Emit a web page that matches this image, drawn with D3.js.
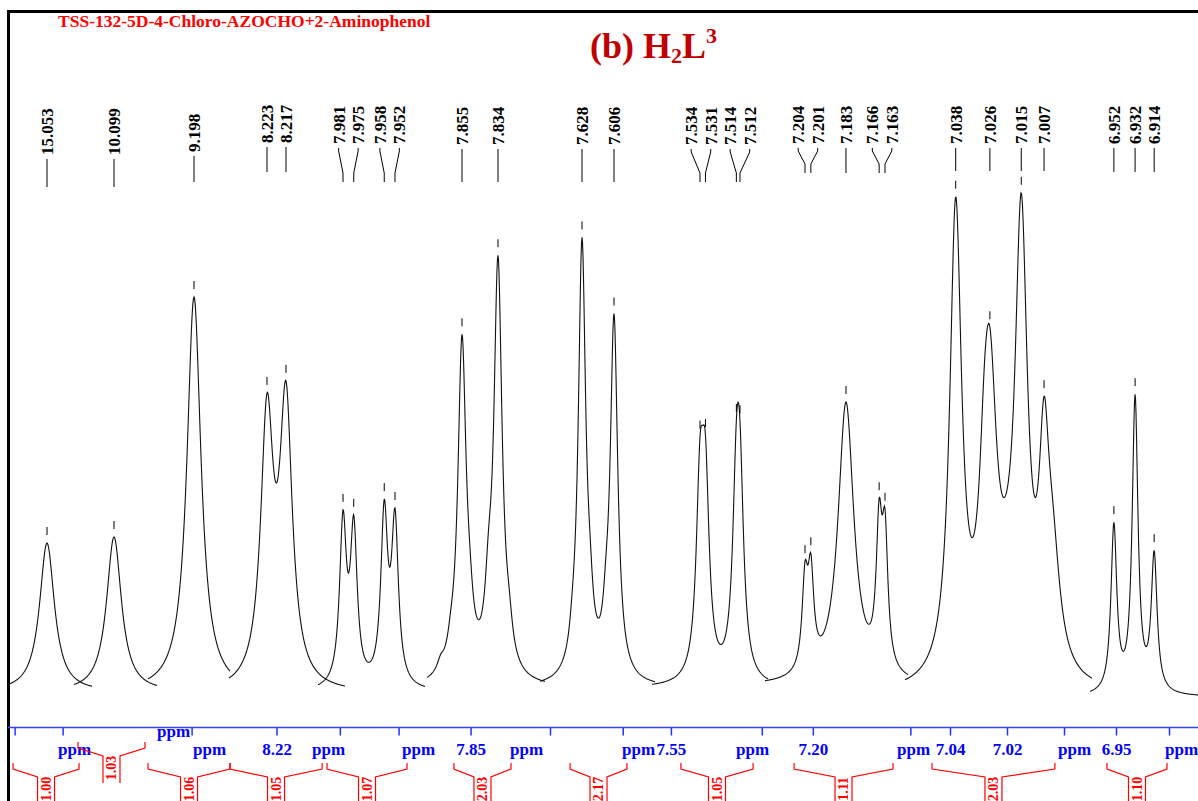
<!DOCTYPE html>
<html>
<head>
<meta charset="utf-8">
<script src="https://cdn.jsdelivr.net/npm/d3@7"></script>
<style>
  body { margin: 0; background: #fff; }
  svg { display: block; }
  text { font-family: "Liberation Serif", "Times New Roman", serif; font-weight: bold; }
</style>
</head>
<body>
<script>
// ---- data ----
let sampleName = "TSS-132-5D-4-Chloro-AZOCHO+2-Aminophenol"

// labelled shifts, one list per stitched region (ppm)
let labelled = [
  [15.053], [10.099], [9.198], [8.223, 8.217],
  [7.981, 7.975, 7.958, 7.952], [7.855, 7.834], [7.628, 7.606],
  [7.534, 7.531, 7.514, 7.512], [7.204, 7.201, 7.183, 7.166, 7.163],
  [7.038, 7.026, 7.015, 7.007], [6.952, 6.932, 6.914]
]

// lines in each region: [shift ppm, height (0-100), half width ppm]
let lines = [
  [[15.053, 29.8, .0075]],
  [[10.099, 31.0, .0075]],
  [[9.198, 79.0, .0071]],
  [[8.223, 52.4, .0024], [8.217, 55.2, .0024]],
  [[7.981, 32.0, .0023], [7.975, 30.4, .0023], [7.958, 33.6, .0023], [7.952, 32.0, .0023]],
  [[7.855, 67.0, .0029], [7.834, 82.6, .0029], [7.8505, 6.0, .0025], [7.8395, 11.0, .0025],
   [7.8275, 5.0, .0025], [7.8615, 3.0, .0025], [7.8675, 2.0, .0025]],
  [[7.628, 87.0, .0031], [7.606, 72.0, .0031], [7.6345, 3.0, .0025], [7.6225, 7.0, .0025],
   [7.6115, 6.0, .0025]],
  [[7.534, 35.0, .0025], [7.531, 35.0, .0025], [7.514, 32.5, .0025], [7.512, 32.5, .0025]],
  [[7.204, 17.2, .0018], [7.201, 18.0, .0018], [7.183, 56.0, .0049], [7.166, 26.5, .0018],
   [7.163, 25.2, .0018]],
  [[7.038, 94.0, .0025], [7.028, 18.0, .0021], [7.026, 52.5, .0030], [7.020, 7.0, .0040],
   [7.015, 88.5, .0026], [7.007, 38.0, .0021], [7.004, 20.0, .0032]],
  [[6.952, 33.2, .0033], [6.932, 58.8, .0033], [6.914, 27.2, .0033]]
]

// axis ticks per region (ppm) and the ones that carry a number
let majorTicks = [[15.08, 15.04], [], [9.20], [8.22, 8.20], [7.95], [7.85], [7.65, 7.60],
                  [7.55, 7.50], [7.20, 7.15], [7.04, 7.02, 7.00], [6.95, 6.90]]
let minorTicks = [[15.06, 15.02], [], [], [8.24, 8.235, 8.23, 8.21, 8.205],
                  [7.98, 7.97, 7.96, 7.94, 7.93], [7.87, 7.86, 7.84, 7.83, 7.82],
                  [7.64, 7.63, 7.62, 7.61, 7.59, 7.58], [7.54, 7.53, 7.52, 7.51],
                  [7.22, 7.21, 7.19, 7.18, 7.17, 7.16, 7.14], [7.03, 7.01, 6.99],
                  [6.96, 6.94, 6.93, 6.92, 6.91, 6.89, 6.88]]
let tickLabels = ["8.22", "7.85", "7.55", "7.20", "7.04", "7.02", "6.95"]

// integrals: from, to (ppm) and value
let integralFrom = [15.0813, 10.129, 9.2363, 8.2347, 7.9899, 7.8597, 7.6362, 7.5445, 7.2096, 7.0463, 6.9585]
let integralTo   = [15.0263, 10.0732, 9.168, 8.2056, 7.9453, 7.8264, 7.5971, 7.5048, 7.1589, 7.0032, 6.9019]
let integralVal  = ["1.00", "1.03", "1.06", "1.05", "1.07", "2.03", "2.17", "1.05", "1.11", "2.03", "1.10"]

// ---- layout of the stitched regions ----
let width = 1198, height = 801
let anchor   = [[15.053, 47], [10.099, 114], [9.198, 194], [8.22, 276.5], [7.981, 343], [7.855, 462],
                [7.628, 582], [7.534, 700], [7.204, 805], [7.04, 950], [6.95, 1116]]
let pxPerPpm = [1200, 1200, 1200, 3167, 1793, 1714, 1455, 1818, 1951, 2850, 1060]
let curveX   = [[8, 92], [74, 157], [148, 230], [229, 345], [318, 425], [427, 545], [540, 655],
                [652, 768], [765, 908], [905, 1092], [1090, 1198]]
let baseY    = [692, 692, 692, 693, 692, 688, 688, 688, 686, 695, 697]
let labelBase = [155, 155, 152, 143, 144, 145, 145, 145, 144, 144, 144]
let lineEnd   = [187, 187, 182, 172, 182, 182, 182, 182, 173, 171, 172]
let ppmLabelX = [58, 157, 193, 312, 402, 510, 622, 736, 897, 1058, 1165]
let ppmLabelY = [755, 737, 755, 755, 755, 755, 755, 755, 755, 755, 755]
let integralLift = [0, 21, 0, 0, 0, 0, 0, 0, 0, 0, 0]
let axisY = 727.5, labelGap = 19.5

let svg = d3.select("body").append("svg")
    .attr("width", width)
    .attr("height", height)

// frame
svg.append("path")
    .attr("d", `M8.5,${height + 5} V11.5 H${width + 5}`)
    .attr("fill", "none")
    .attr("stroke", "#000")
    .attr("stroke-width", 3)

svg.append("text")
    .attr("x", 58).attr("y", 27)
    .attr("fill", "#ff0000")
    .style("font-size", "17.5px")
    .text(sampleName)

let sub = svg.append("text")
    .attr("x", 590).attr("y", 58)
    .attr("fill", "#c00000")
    .style("font-size", "36px")
sub.append("tspan").text("(b) H")
sub.append("tspan").attr("dy", 5).style("font-size", "22px").text("2")
sub.append("tspan").attr("dy", -5).text("L")
sub.append("tspan").attr("dy", -15).style("font-size", "22px").text("3")

// base axis line
svg.append("line")
    .attr("x1", 8).attr("x2", width)
    .attr("y1", axisY).attr("y2", axisY)
    .attr("stroke", "#3344ff")
    .attr("stroke-width", 1.5)

// spread labels of close peaks, like the plotting program does
function spreadLabels(xs) {
    let groups = xs.map(v => ({ members: [v] }))
    let pos = g => {
        let c = d3.mean(g.members)
        return g.members.map((m, j) => c + (j - (g.members.length - 1) / 2) * labelGap)
    }
    let merged = true
    while (merged) {
        merged = false
        for (let j = 0; j < groups.length - 1; j++) {
            let a = pos(groups[j]), b = pos(groups[j + 1])
            if (a[a.length - 1] + labelGap > b[0] + 0.01) {
                groups[j].members = groups[j].members.concat(groups[j + 1].members)
                groups.splice(j + 1, 1)
                merged = true
                break
            }
        }
    }
    return groups.flatMap(pos)
}

anchor.forEach((a, i) => {
    let [x0, x1] = curveX[i]
    let ppmAt = px => a[0] - (px - a[1]) / pxPerPpm[i]
    let x = d3.scaleLinear().domain([ppmAt(x0), ppmAt(x1)]).range([x0, x1])
    let y = d3.scaleLinear().domain([0, 100]).range([baseY[i], baseY[i] - 500])
    let f = ppm => d3.sum(lines[i], ([c, h, w]) => h / (1 + ((ppm - c) / w) ** 2))

    let g = svg.append("g")

    // spectrum trace
    let pts = d3.range(x0, x1 + 0.01, 0.5).map(px => [px, y(f(x.invert(px)))])
    g.append("path")
        .attr("d", d3.line()(pts))
        .attr("fill", "none")
        .attr("stroke", "#111")
        .attr("stroke-width", 1.1)

    // peak labels, connectors and small markers
    let peakX = labelled[i].map(p => x(p))
    let labX = spreadLabels(peakX)
    let top = labelBase[i] + 4, bot = lineEnd[i]
    labelled[i].forEach((p, j) => {
        let px = peakX[j], lx = labX[j]
        g.append("path")
            .attr("d", Math.abs(lx - px) < 0.5
                ? `M${px},${top} V${bot}`
                : `M${lx},${top} v3 L${px},${bot - 9} V${bot}`)
            .attr("fill", "none")
            .attr("stroke", "#000")
            .attr("stroke-width", 1)
        g.append("text")
            .attr("transform", `translate(${lx},${labelBase[i]}) rotate(-90)`)
            .attr("dy", "0.35em")
            .style("font-size", "17px")
            .attr("fill", "#000")
            .text(p.toFixed(3))
        let yt = y(f(p))
        g.append("line")
            .attr("x1", px).attr("x2", px)
            .attr("y1", yt - 16).attr("y2", yt - 8)
            .attr("stroke", "#000")
            .attr("stroke-width", 1)
    })

    // axis for this region
    let axG = g.append("g").attr("transform", `translate(0,${axisY})`)
    axG.call(d3.axisBottom(x).tickValues(minorTicks[i]).tickSize(4).tickFormat(""))
    axG.call(d3.axisBottom(x).tickValues(majorTicks[i]).tickSize(8).tickPadding(7.5)
        .tickFormat(v => tickLabels.includes(v.toFixed(2)) ? v.toFixed(2) : ""))
    axG.selectAll(".domain").remove()
    axG.selectAll("line").attr("stroke", "#2233ff").attr("stroke-width", 1.5)
    axG.selectAll("text")
        .attr("fill", "#0000ff")
        .style("font-size", "17px")
        .style("font-family", "'Liberation Serif', 'Times New Roman', serif")

    g.append("text")
        .attr("x", ppmLabelX[i]).attr("y", ppmLabelY[i])
        .attr("fill", "#0000ff")
        .style("font-size", "17px")
        .text("ppm")

    // integral bracket
    let xa = x(integralFrom[i]), xb = x(integralTo[i]), cx = (xa + xb) / 2
    let t = 763 - integralLift[i], knee = t + 6, boxTop = t + 14, boxBot = boxTop + 27
    g.append("path")
        .attr("d", `M${xa},${t} V${knee} L${cx - 8.5},${boxTop} V${boxBot}` +
                   ` M${cx + 8.5},${boxBot} V${boxTop} L${xb},${knee} V${t}`)
        .attr("fill", "none")
        .attr("stroke", "#ff0000")
        .attr("stroke-width", 1.2)
    g.append("text")
        .attr("transform", `translate(${cx},${boxTop + 12}) rotate(-90)`)
        .attr("text-anchor", "middle")
        .attr("dy", "0.35em")
        .attr("fill", "#ff0000")
        .style("font-size", "14px")
        .text(integralVal[i])
})
</script>
</body>
</html>
